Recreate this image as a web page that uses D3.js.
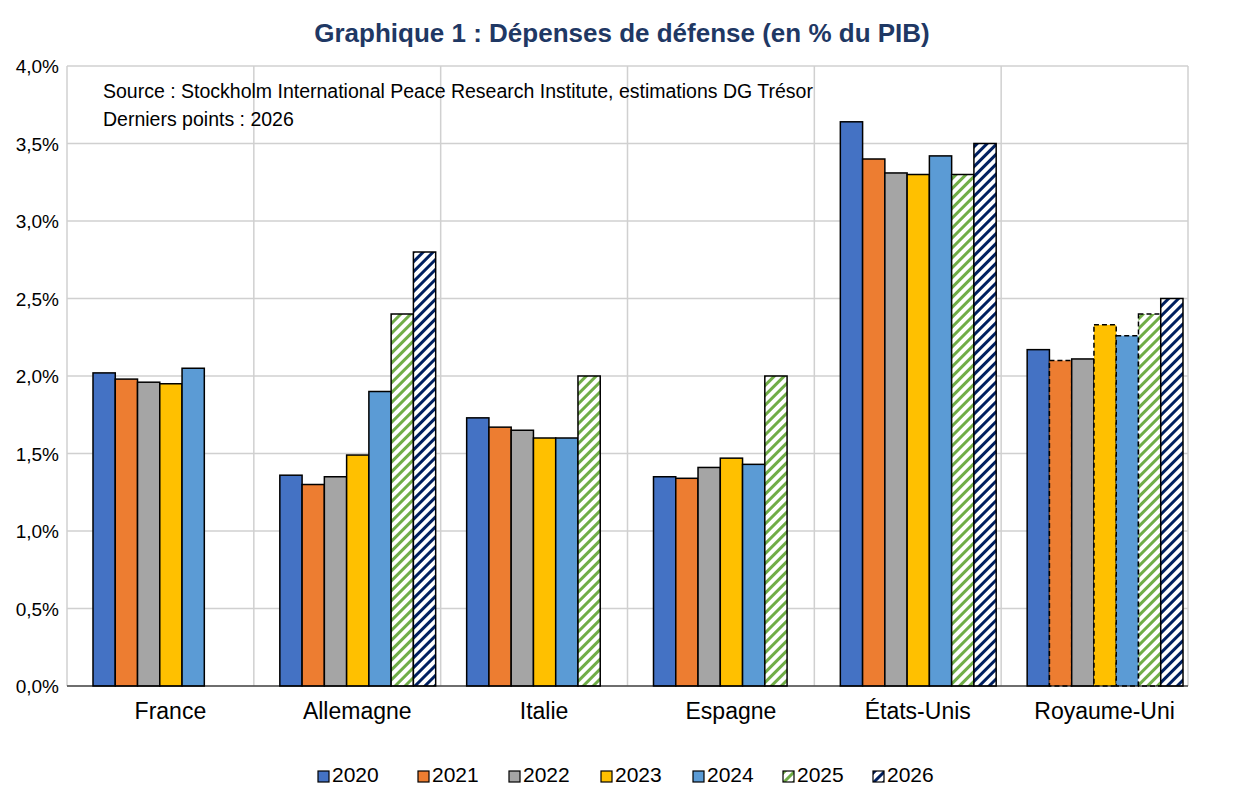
<!DOCTYPE html><html><head><meta charset="utf-8"><script src="https://cdn.jsdelivr.net/npm/d3@7"></script>
<style>body{margin:0;background:#fff;font-family:"Liberation Sans",Arial,sans-serif}</style></head><body><svg id="c" width="1245" height="810"></svg>
<script>
const countries=["France","Allemagne","Italie","Espagne","États-Unis","Royaume-Uni"];
const years=["2020","2021","2022","2023","2024","2025","2026"];
const v2020=[2.02,1.36,1.73,1.35,3.64,2.17];
const v2021=[1.98,1.30,1.67,1.34,3.40,2.10];
const v2022=[1.96,1.35,1.65,1.41,3.31,2.11];
const v2023=[1.95,1.49,1.60,1.47,3.30,2.33];
const v2024=[2.05,1.90,1.60,1.43,3.42,2.26];
const v2025=[null,2.40,2.00,2.00,3.30,2.40];
const v2026=[null,2.80,null,null,3.50,2.50];
const yTicks=[0,0.5,1,1.5,2,2.5,3,3.5,4];
const series=[v2020,v2021,v2022,v2023,v2024,v2025,v2026];
const colors=["#4472C4","#ED7D31","#A5A5A5","#FFC000","#5B9BD5","url(#hg)","url(#hb)"];
const dashedUK=[1,3,4,5];
const svg=d3.select("#c");
const defs=svg.append("defs");
function hatch(id,col){const p=defs.append("pattern").attr("id",id).attr("patternUnits","userSpaceOnUse").attr("width",7).attr("height",7).attr("patternTransform","rotate(45)");
p.append("rect").attr("width",7).attr("height",7).attr("fill","#fff");p.append("rect").attr("width",3).attr("height",7).attr("fill",col);}
hatch("hg","#70AD47");hatch("hb","#002060");
const L=67,R=1188,T=66,B=686;
const x0=d3.scaleBand().domain(countries).range([L,R]);
const x1=d3.scaleBand().domain(years).range([26,x0.bandwidth()-5]);
const y=d3.scaleLinear().domain([0,4]).range([B,T]);
const fmt=d=>d3.format(".1f")(d).replace(".",",")+"%";
svg.append("g").selectAll("line").data(yTicks).join("line").attr("x1",L).attr("x2",R).attr("y1",y).attr("y2",y).attr("stroke","#d0d0d0").attr("stroke-width",1.5);
svg.append("g").selectAll("line").data(countries.concat([null])).join("line").attr("x1",(d,i)=>L+i*x0.bandwidth()).attr("x2",(d,i)=>L+i*x0.bandwidth()).attr("y1",T).attr("y2",B).attr("stroke","#d0d0d0").attr("stroke-width",1.5);
svg.append("g").selectAll("text").data(yTicks).join("text").attr("x",L-8).attr("y",d=>y(d)+7).attr("text-anchor","end").attr("font-size",19).text(fmt);
countries.forEach((c,ci)=>{
  series.forEach((s,si)=>{const v=s[ci];if(v==null)return;
    svg.append("rect").attr("x",x0(c)+x1(years[si])).attr("width",x1.bandwidth()).attr("y",y(v)).attr("height",B-y(v))
      .attr("fill",colors[si]).attr("stroke","#000").attr("stroke-width",1.5)
      .attr("stroke-dasharray",(ci===5&&dashedUK.includes(si))?"5,3":null);});
});
svg.append("line").attr("x1",L).attr("x2",R).attr("y1",B).attr("y2",B).attr("stroke","#000").attr("stroke-width",1.2);
svg.append("g").selectAll("text").data(countries).join("text").attr("x",d=>x0(d)+x0.bandwidth()/2+10).attr("y",719).attr("text-anchor","middle").attr("font-size",23).text(d=>d);
svg.append("text").attr("x",622).attr("y",42).attr("text-anchor","middle").attr("font-size",26).attr("font-weight","bold").attr("fill","#1F3864").text("Graphique 1 : Dépenses de défense (en % du PIB)");
svg.append("text").attr("x",103).attr("y",98).attr("font-size",19.5).text("Source : Stockholm International Peace Research Institute, estimations DG Trésor");
svg.append("text").attr("x",103).attr("y",126).attr("font-size",19.5).text("Derniers points : 2026");
const lx=[318,418,509,601,693,783,873];
years.forEach((yr,i)=>{const g=svg.append("g").attr("transform",`translate(${lx[i]},771)`);
  g.append("rect").attr("width",11).attr("height",11).attr("fill",colors[i]).attr("stroke","#000").attr("stroke-width",1.2);
  g.append("text").attr("x",14).attr("y",11).attr("font-size",21).text(yr);});
</script></body></html>
